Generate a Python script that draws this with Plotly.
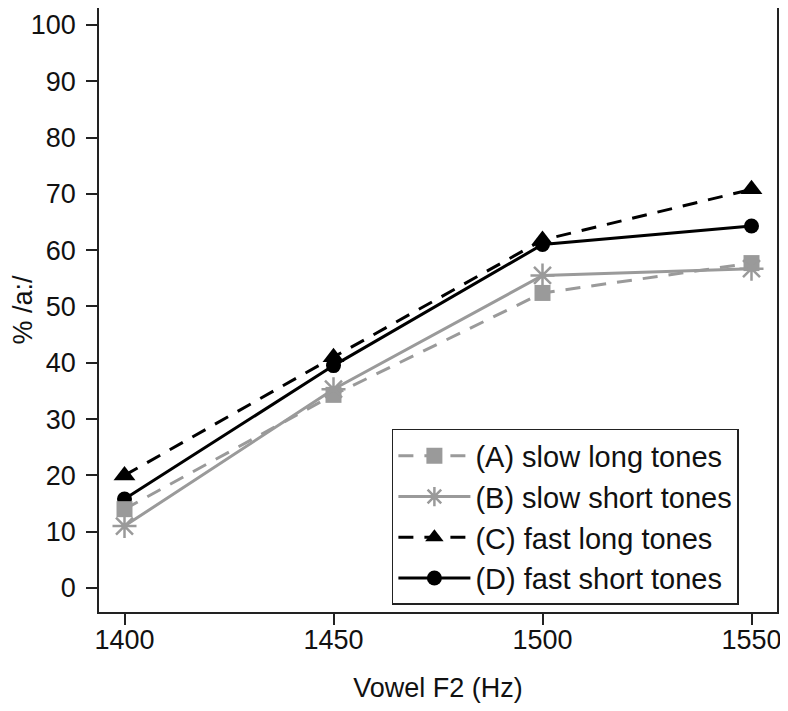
import plotly.graph_objects as go

f2_hz = [1400, 1450, 1500, 1550]
slow_long = [14.0, 34.3, 52.4, 57.7]
slow_short = [11.0, 35.3, 55.5, 56.7]
fast_long = [20.0, 41.0, 61.8, 70.8]
fast_short = [15.8, 39.5, 61.0, 64.3]

series_names = ["(A) slow long tones", "(B) slow short tones",
                "(C) fast long tones", "(D) fast short tones"]
y_ticks = [0, 10, 20, 30, 40, 50, 60, 70, 80, 90, 100]
x_ticks = [1400, 1450, 1500, 1550]

GRAY = "#9a9a9a"
BLACK = "#000000"
FONT = "Liberation Sans, Arial, sans-serif"

fig = go.Figure()

fig.add_trace(go.Scatter(
    x=f2_hz, y=fast_short, name=series_names[3], legendrank=4,
    mode="lines+markers",
    line=dict(color=BLACK, width=3),
    marker=dict(symbol="circle", size=15, color=BLACK),
))
fig.add_trace(go.Scatter(
    x=f2_hz, y=fast_long, name=series_names[2], legendrank=3,
    mode="lines+markers",
    line=dict(color=BLACK, width=3, dash="15px,11px"),
    marker=dict(symbol="triangle-up", size=19, color=BLACK),
))
fig.add_trace(go.Scatter(
    x=f2_hz, y=slow_long, name=series_names[0], legendrank=1,
    mode="lines+markers",
    line=dict(color=GRAY, width=3, dash="15px,11px"),
    marker=dict(symbol="square", size=16, color=GRAY),
))
fig.add_trace(go.Scatter(
    x=f2_hz, y=slow_short, name=series_names[1], legendrank=2,
    mode="lines+markers",
    line=dict(color=GRAY, width=3),
    marker=dict(symbol="asterisk-open", size=20, color=GRAY,
                line=dict(color=GRAY, width=2.5)),
))

axis_common = dict(
    showline=True, linecolor="#222222", linewidth=1.5, mirror=True,
    ticks="outside", ticklen=11, tickwidth=1.5, tickcolor="#222222",
    showgrid=False, zeroline=False, automargin=False,
    tickfont=dict(family=FONT, size=27, color="#111111"),
)

fig.update_layout(
    width=788, height=711,
    margin=dict(l=91, r=19, t=0, b=107),
    paper_bgcolor="white", plot_bgcolor="white",
    font=dict(family=FONT, color="#111111"),
    xaxis=dict(
        range=[1393.9, 1556.1], tickvals=x_ticks, ticklabelstandoff=-8,
        title=dict(text="Vowel F2 (Hz)", font=dict(family=FONT, size=27), standoff=24),
        **axis_common,
    ),
    yaxis=dict(
        range=[-4.26, 103.0], tickvals=y_ticks, ticklabelstandoff=5,
        title=dict(text="% /a:/", font=dict(family=FONT, size=27), standoff=0),
        **axis_common,
    ),
    legend=dict(
        x=0.432, y=0.303, xanchor="left", yanchor="top",
        bordercolor="#222222", borderwidth=1.5, bgcolor="white",
        font=dict(family=FONT, size=29, color="#111111"),
        itemwidth=72,
    ),
    showlegend=True,
)

fig.write_html("out.html")
